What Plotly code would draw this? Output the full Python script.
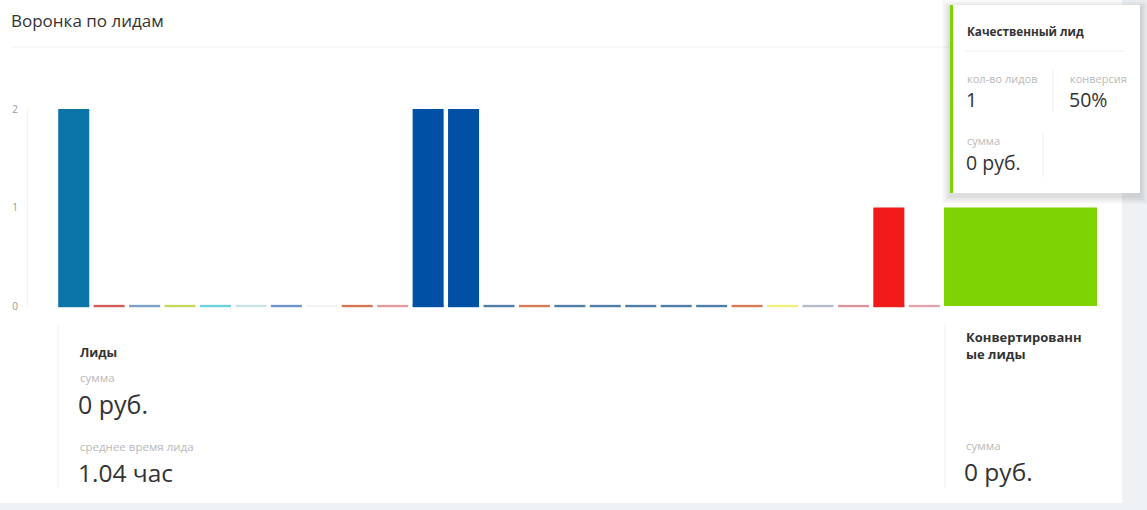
import plotly.graph_objects as go

W, H = 1147, 510

# lead funnel stages (names are not legible on the screenshot)
stages = [
    "Не обработан", "В работе", "Ожидание", "Звонок", "Встреча",
    "Перезвонить", "Отложен", "Новый", "Консультация", "Предложение",
    "Первичный контакт", "Квалификация", "Анкета", "Счёт", "Договор",
    "Согласование", "Оплата", "Документы", "Доставка", "Возврат",
    "Повтор", "Архив", "Спам", "Качественный лид", "Некачественный лид",
]
leads = [2, 0, 0, 0, 0, 0, 0, 0, 0, 0, 2, 2, 0, 0, 0, 0, 0, 0, 0, 0, 0, 0, 0, 1, 0]
stage_colors = [
    "#0a74a8", "#d35a57", "#7e9fc8", "#c7d85c", "#6bd3dc",
    "#c9e2e8", "#6f93c9", "#f2f2f2", "#d27553", "#e69b9c",
    "#0051a6", "#0051a6", "#4e7ea6", "#d37c56", "#4e7ea6",
    "#4e7ea6", "#4e7ea6", "#4e7ea6", "#4e7ea6", "#d37c56",
    "#f2ee7a", "#b5bccb", "#d99597", "#f01a1a", "#e2a3ab",
]
converted_stage = ["Конвертированные лиды"]
converted = [1]
converted_color = "#7dd304"


def px(x):
    return x / W


def py(y):
    return 1 - y / H


fig = go.Figure()

# thin stubs so that empty stages still show a coloured line at the base
fig.add_trace(go.Bar(x=stages, y=[0.024] * len(stages), base=-0.012,
                     marker=dict(color=stage_colors, line_width=0),
                     hoverinfo="skip", showlegend=False))
fig.add_trace(go.Bar(x=stages, y=leads, marker=dict(color=stage_colors, line_width=0),
                     name="Лиды", showlegend=False))
fig.add_trace(go.Bar(x=converted_stage, y=converted, width=1,
                     marker=dict(color=converted_color, line_width=0),
                     xaxis="x2", name="Конвертированные лиды", showlegend=False))

grey_txt = "#b9b9b9"
dark_txt = "#333333"


def label(x, y, text, size, color=dark_txt, yanchor="middle"):
    return dict(x=px(x), y=py(y), xref="paper", yref="paper", text=text,
                showarrow=False, xanchor="left", yanchor=yanchor, align="left",
                font=dict(size=size, color=color, family="Open Sans"))


def rect(x0, y0, x1, y1, fill, layer="above"):
    return dict(type="rect", xref="paper", yref="paper",
                x0=px(x0), x1=px(x1), y0=py(y1), y1=py(y0),
                fillcolor=fill, line_width=0, layer=layer)


def line(x0, y0, x1, y1, color="#eeeeee"):
    return dict(type="line", xref="paper", yref="paper",
                x0=px(x0), x1=px(x1), y0=py(y0), y1=py(y1),
                line=dict(color=color, width=1), layer="above")


shapes = [
    rect(0, 0, 1122, 503, "white", layer="below"),
    line(10, 47, 1120, 47, "#f2f2f2"),
    line(58, 325, 58, 488),
    line(945, 325, 945, 488),
]
# tooltip card with a soft shadow
for i, a in enumerate([0.025, 0.03, 0.035, 0.04]):
    d = 8 - 2 * i
    shapes.append(rect(950 - d, 5 - d + 3, 1140 + d, 193 + d + 3, f"rgba(0,0,0,{a})"))
shapes += [
    rect(950, 5, 1140, 193, "white"),
    rect(950, 5, 953, 193, converted_color),
    line(966, 51, 1125, 51),
    line(1053, 70, 1053, 112),
    line(1043, 133, 1043, 177),
]

annotations = [
    label(9, 21, "Воронка по лидам", 17),
    label(78, 352, "<b>Лиды</b>", 12.5),
    label(78, 377, "сумма", 11.5, grey_txt),
    label(76, 404, "0 руб.", 25),
    label(78, 446, "среднее время лида", 11.5, grey_txt),
    label(76, 472, "1.04 час", 24.5),
    label(964, 326, "<b>Конвертированн<br>ые лиды</b>", 13, yanchor="top"),
    label(964, 445, "сумма", 11.5, grey_txt),
    label(962, 471, "0 руб.", 24.5),
    label(965, 31, "<b>Качественный лид</b>", 11.7),
    label(965, 78, "кол-во лидов", 11, grey_txt),
    label(964, 100, "1", 19.5),
    label(1068, 78, "конверсия", 11, grey_txt),
    label(1067, 100, "50%", 19.5),
    label(965, 140, "сумма", 11, grey_txt),
    label(964, 162, "0 руб.", 19.5),
]

fig.update_layout(
    width=W, height=H,
    margin=dict(l=0, r=0, t=0, b=0, autoexpand=False),
    paper_bgcolor="#eef2f4",
    plot_bgcolor="rgba(0,0,0,0)",
    barmode="overlay",
    bargap=0.125,
    font=dict(family="Open Sans", color=dark_txt),
    xaxis=dict(domain=[px(56), px(942)], range=[-0.5, len(stages) - 0.5],
               showticklabels=False, showgrid=False, zeroline=False, ticks=""),
    xaxis2=dict(domain=[px(944), px(1097)], anchor="y", range=[-0.5, 0.5],
                showticklabels=False, showgrid=False, zeroline=False, ticks=""),
    yaxis=dict(domain=[py(308), py(109)], range=[-0.02, 2], anchor="free",
               position=px(27), tickvals=[0, 1, 2], showgrid=False, zeroline=False,
               showline=True, linecolor="#f2f2f2", ticks="", ticklabelstandoff=7,
               tickfont=dict(size=10, color="#999999")),
    shapes=shapes,
    annotations=annotations,
)

fig.write_html("out.html", config={"displayModeBar": False},
               post_script="document.body.style.margin='0';")
